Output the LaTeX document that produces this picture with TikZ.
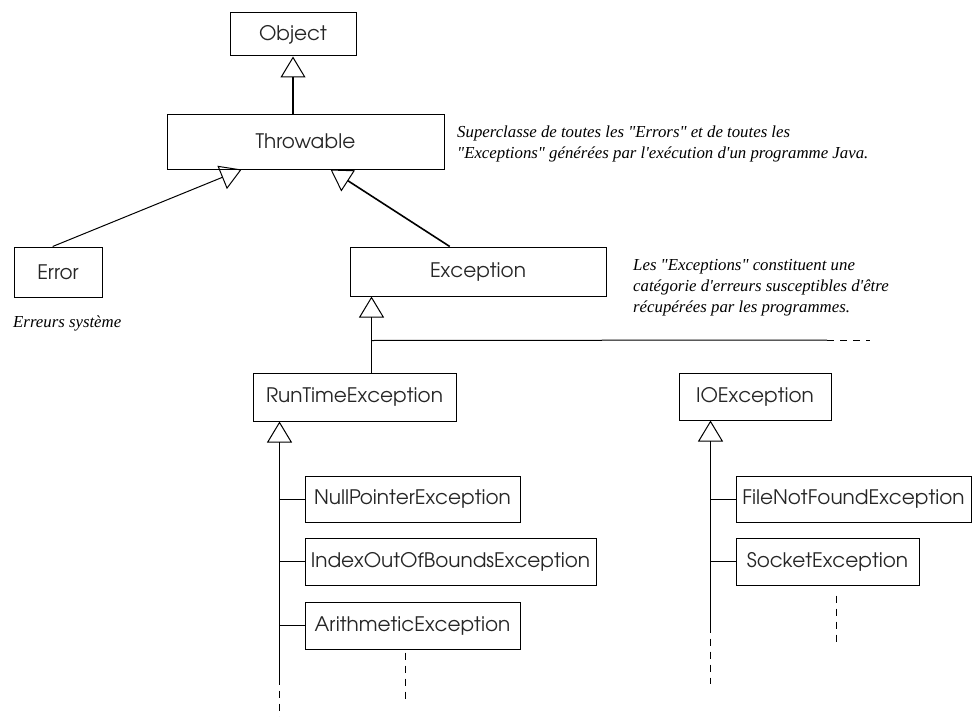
\documentclass[tikz,border=0pt]{standalone}
\usepackage[T1]{fontenc}
\usepackage{fontspec}
\setmainfont{Liberation Serif}[Ligatures=TeXOff]
\usetikzlibrary{arrows.meta,calc}
\newcommand\classfont{\usefont{T1}{pag}{m}{n}\fontsize{20}{22}\selectfont}
\newcommand\notefont{\itshape\fontsize{16.8}{21}\selectfont}
\tikzset{
  classbox/.style={draw=black, line width=1pt, inner sep=0pt, text=black!85,
    font=\classfont},
  inherit/.style={line width=1pt, -{Triangle[open, length=21pt, width=25pt, line width=1pt]}},
  branch/.style={line width=1pt},
  etc/.style={line width=1pt, dash pattern=on 7pt off 6pt},
  note/.style={anchor=base west, align=left, inner sep=0pt, font=\notefont, text=black},
}
\begin{document}
\begin{tikzpicture}[x=1pt, y=-1pt]
\useasboundingbox (0,0) rectangle (972,717);

% classes
\node[classbox, minimum width=126pt, minimum height=43pt] (obj) at (293,34.5) {Object};
\node[classbox, minimum width=277pt, minimum height=55pt] (thr) at (305.5,141.5) {Throwable};
\node[classbox, minimum width=88pt, minimum height=50pt] (err) at (58,272) {Error};
\node[classbox, minimum width=256pt, minimum height=49pt] (exc) at (478,271.5) {Exception};
\node[classbox, minimum width=203pt, minimum height=48pt] (rte) at (354.5,397) {RunTimeException};
\node[classbox, minimum width=152pt, minimum height=47pt] (ioe) at (755,396.5) {IOException};
\node[classbox, minimum width=215pt, minimum height=46pt] (npe) at (412.5,499) {NullPointerException};
\node[classbox, minimum width=291pt, minimum height=47pt] (iob) at (450.5,561.5) {IndexOutOfBoundsException};
\node[classbox, minimum width=215pt, minimum height=47pt] (ari) at (412.5,625.5) {ArithmeticException};
\node[classbox, minimum width=235pt, minimum height=46pt] (fnf) at (853.5,499) {FileNotFoundException};
\node[classbox, minimum width=183pt, minimum height=47pt] (soc) at (827.5,561.5) {SocketException};

% notes (anchored on the baseline of their last line)
\node[note] (nthr) at (457,158) {Superclasse de toutes les "Errors" et de toutes les\\"Exceptions" générées par l'exécution d'un programme Java.};
\node[note] (nexc) at (633,312) {Les "Exceptions" constituent une\\catégorie d'erreurs susceptibles d'être\\récupérées par les programmes.};
\node[note] (nerr) at (13,327) {Erreurs système};

% Throwable and its direct subclasses
\draw[inherit, line width=2pt] (thr.north -| obj.south) -- (obj.south);
\draw[inherit] ($(err.north west)!0.44!(err.north east)$) -- ($(thr.south west)!0.27!(thr.south east)$);
\draw[inherit, line width=1.6pt] ($(exc.north west)!0.39!(exc.north east)$) -- ($(thr.south west)!0.59!(thr.south east)$);

% Exception hierarchy bus
\coordinate (bus) at ($(exc.south west)+(22,44)$);
\coordinate (busend) at (827,340);
\coordinate (busdash) at (870,340);
\draw[inherit] (bus) -- (bus |- exc.south);
\draw[branch] (bus) -- (busend);
\draw[etc] (busend) -- (busdash);
\draw[branch] (bus) -- (bus |- rte.north);
\draw[branch] ($(ioe.north west)+(26,0)$ |- bus) -- ($(ioe.north west)+(26,0)$);

% RunTimeException subclasses
\coordinate (rtetip) at ($(rte.south west)+(27,0)$);
\coordinate (rtebot) at ($(rtetip)+(0,256)$);
\coordinate (rteend) at ($(rtetip)+(0,296)$);
\draw[inherit] (rtebot) -- (rtetip);
\draw[etc] (rtebot) -- (rteend);
\draw[branch] (rtetip |- npe.west) -- (npe.west);
\draw[branch] (rtetip |- iob.west) -- (iob.west);
\draw[branch] (rtetip |- ari.west) -- (ari.west);
\coordinate (arimore) at ($(ari.south west)+(101,3)$);
\draw[etc] (arimore) -- ++(0,50);

% IOException subclasses
\coordinate (ioetip) at ($(ioe.south west)+(32,0)$);
\coordinate (ioebot) at ($(ioetip)+(0,205)$);
\coordinate (ioeend) at ($(ioetip)+(0,263)$);
\draw[inherit] (ioebot) -- (ioetip);
\draw[etc] (ioebot) -- (ioeend);
\draw[branch] (ioetip |- fnf.west) -- (fnf.west);
\draw[branch] (ioetip |- soc.west) -- (soc.west);
\coordinate (socmore) at ($(soc.south west)+(101,10)$);
\draw[etc] (socmore) -- ++(0,50);
\end{tikzpicture}
\end{document}
